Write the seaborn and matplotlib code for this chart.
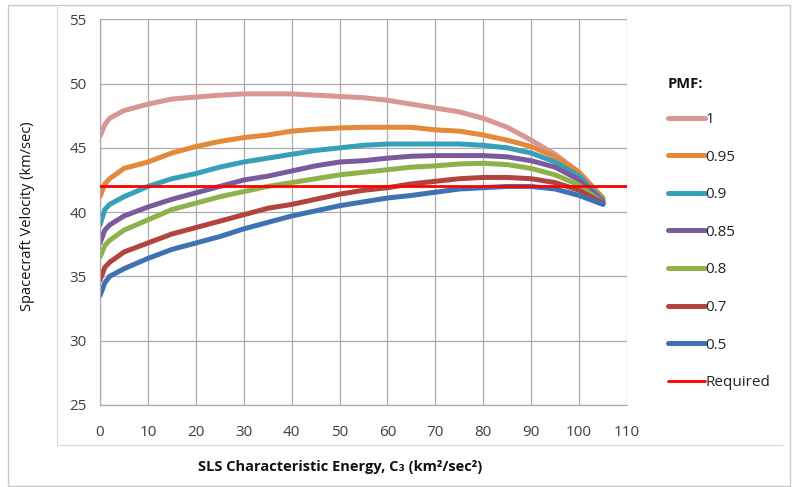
import pandas as pd
import numpy as np
import matplotlib
matplotlib.use('Agg')
from matplotlib import pyplot as plt
from matplotlib.lines import Line2D
from matplotlib.patches import Rectangle
import seaborn as sns

sns.set_style('white')
plt.rcParams['font.family'] = ['Open Sans', 'DejaVu Sans']

# SLS characteristic energy C3 (km^2/sec^2)
c3 = [0, 1, 2, 5, 10, 15, 20, 25, 30, 35, 40, 45, 50, 55, 60, 65, 70, 75, 80, 85, 90, 95, 100, 105]

# spacecraft velocity (km/sec) per PMF
v_100 = [45.9, 46.8, 47.3, 47.9, 48.4, 48.8, 48.95, 49.1, 49.2, 49.2, 49.2, 49.1, 49.0, 48.9, 48.7, 48.4, 48.1, 47.8, 47.3, 46.6, 45.6, 44.5, 43.1, 41.0]
v_095 = [41.2, 42.2, 42.6, 43.4, 43.9, 44.6, 45.1, 45.5, 45.8, 46.0, 46.3, 46.45, 46.55, 46.6, 46.6, 46.6, 46.4, 46.3, 46.0, 45.6, 45.1, 44.3, 43.1, 41.1]
v_090 = [39.0, 40.2, 40.6, 41.2, 42.0, 42.6, 43.0, 43.5, 43.9, 44.2, 44.5, 44.8, 45.0, 45.2, 45.3, 45.3, 45.3, 45.3, 45.2, 45.0, 44.6, 43.9, 42.8, 40.9]
v_085 = [37.6, 38.6, 39.0, 39.7, 40.4, 41.0, 41.5, 42.0, 42.5, 42.8, 43.2, 43.6, 43.9, 44.0, 44.2, 44.35, 44.4, 44.4, 44.4, 44.3, 44.0, 43.5, 42.5, 40.8]
v_080 = [36.5, 37.4, 37.8, 38.6, 39.4, 40.2, 40.7, 41.2, 41.6, 42.0, 42.3, 42.6, 42.9, 43.1, 43.3, 43.5, 43.6, 43.75, 43.8, 43.7, 43.4, 42.9, 42.1, 40.7]
v_070 = [34.7, 35.7, 36.1, 36.9, 37.6, 38.3, 38.8, 39.3, 39.8, 40.3, 40.6, 41.0, 41.4, 41.7, 41.9, 42.2, 42.4, 42.6, 42.7, 42.7, 42.6, 42.3, 41.7, 40.7]
v_050 = [33.5, 34.5, 35.0, 35.6, 36.4, 37.1, 37.6, 38.1, 38.7, 39.2, 39.7, 40.1, 40.5, 40.8, 41.1, 41.3, 41.55, 41.8, 41.9, 42.0, 42.0, 41.8, 41.3, 40.6]

pmf_labels = ['1', '0.95', '0.9', '0.85', '0.8', '0.7', '0.5']
pmf_colors = ['#D99694', '#E4883A', '#36A0B8', '#7A5A9C', '#8DB14B', '#B2443F', '#3F72B2']

required_x = [0, 110]
required_v = [42, 42]

series = [v_100, v_095, v_090, v_085, v_080, v_070, v_050]
frame = pd.concat([pd.DataFrame({'c3': c3, 'velocity': v, 'PMF': lab})
                   for v, lab in zip(series, pmf_labels)], ignore_index=True)

fig = plt.figure(figsize=(7.92, 4.87), dpi=100)
ax = fig.add_axes([100/792, 1 - 405/487, 527/792, (405 - 19.3)/487])

sns.lineplot(data=frame, x='c3', y='velocity', hue='PMF', hue_order=pmf_labels,
             palette=dict(zip(pmf_labels, pmf_colors)), linewidth=3.6,
             legend=False, ax=ax, solid_capstyle='round')
ax.plot(required_x, required_v, color='#FF0000', linewidth=2.0, zorder=5)

ax.set_xlim(0, 110)
ax.set_ylim(25, 55)
ax.set_xticks(range(0, 111, 10))
ax.set_yticks(range(25, 56, 5))
ax.grid(True, color='#ABABAB', linewidth=0.9)
ax.set_axisbelow(True)
for side in ['top', 'right']:
    ax.spines[side].set_visible(False)
for side in ['left', 'bottom']:
    ax.spines[side].set_color('#ABABAB')
    ax.spines[side].set_linewidth(0.9)
ax.tick_params(axis='both', colors='#ABABAB', labelcolor='#404040', labelsize=11,
               length=4.5, width=0.9, direction='out')
ax.tick_params(axis='x', pad=10)
ax.tick_params(axis='y', pad=5)
ax.set_xlabel('')
ax.set_ylabel('')

fig.text(340/792, 1 - 467/487, 'SLS Characteristic Energy, C\u2083 (km\u00b2/sec\u00b2)',
         ha='center', va='center', fontsize=10.5, fontweight='bold', color='#111111')
fig.text(28/792, 1 - 216/487, 'Spacecraft Velocity (km/sec)', rotation=90,
         ha='center', va='center', fontsize=10.5, color='#111111')

handles = [Line2D([], [], color=c, linewidth=3.6, solid_capstyle='round') for c in pmf_colors]
handles.append(Line2D([], [], color='#FF0000', linewidth=2.0))
leg = ax.legend(handles, pmf_labels + ['Required'], frameon=False,
                loc='upper left', bbox_to_anchor=(668/792, 1 - 112/487),
                bbox_transform=fig.transFigure, fontsize=11,
                handlelength=2.4, handletextpad=0.05, labelspacing=1.48,
                borderaxespad=0, borderpad=0)
for t in leg.get_texts():
    t.set_color('#222222')
fig.text(668/792, 1 - 84/487, 'PMF:', ha='left', va='center', fontsize=10.5,
         fontweight='bold', color='#111111')

# chart and plot-area frames
fig.patches.append(Rectangle((8/792, 1 - 486/487), 782/792, (486 - 5)/487,
                             transform=fig.transFigure, fill=False,
                             edgecolor='#C8C8C8', linewidth=1.0))
fig.lines.append(Line2D([57/792, 57/792], [1 - 7/487, 1 - 445/487],
                        transform=fig.transFigure, color='#D8D8D8', linewidth=0.8))
fig.lines.append(Line2D([57/792, 783/792], [1 - 445/487, 1 - 445/487],
                        transform=fig.transFigure, color='#D8D8D8', linewidth=0.8))

fig.savefig('out.png', dpi=100)
